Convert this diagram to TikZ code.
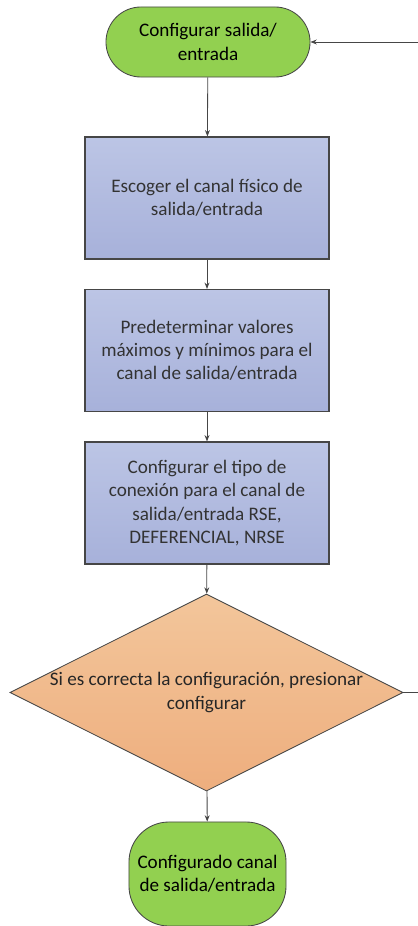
\documentclass[tikz,border=0pt]{standalone}
\usepackage{fontspec}
\setmainfont{Carlito}
\usetikzlibrary{shapes.geometric,arrows.meta}
\definecolor{termgreen}{RGB}{146,208,80}
\definecolor{proctop}{RGB}{188,197,229}
\definecolor{procbot}{RGB}{167,177,218}
\definecolor{dectop}{RGB}{243,198,155}
\definecolor{decbot}{RGB}{238,174,126}
\definecolor{edge}{RGB}{70,70,70}

\begin{document}
\begin{tikzpicture}[x=0.025cm,y=-0.025cm,
  txt/.style={font=\fontsize{13.6}{16.5}\selectfont,align=center},
  term/.style={txt,draw=edge,line width=0.6pt,fill=termgreen,text=black},
  proc/.style={txt,draw=edge,line width=0.8pt,top color=proctop,bottom color=procbot,
    minimum width=6.1cm,minimum height=3.05cm,text=black!80},
  flow/.style={draw=edge,line width=0.6pt,-{Stealth[length=4.5pt,width=3.5pt]}}]
\useasboundingbox (0,0) rectangle (418,926);
\clip (0,0) rectangle (418,926);

\node[term,minimum width=5.1cm,minimum height=1.75cm,rounded corners=0.875cm] (start) at (208,42)
  {Configurar salida/\\entrada};
\node[proc] (canal) at (207,198) {Escoger el canal físico de\\salida/entrada};
\node[proc] (limites) at (207,350.5) {Predeterminar valores\\máximos y mínimos para el\\canal de salida/entrada};
\node[proc] (conexion) at (207,503) {Configurar el tipo de\\conexión para el canal de\\salida/entrada RSE,\\DEFERENCIAL, NRSE};
\node[diamond,draw=edge,line width=0.6pt,top color=dectop,bottom color=decbot,
  minimum width=9.825cm,minimum height=4.925cm,inner sep=0pt] (check) at (206.5,692.5) {};
\node[txt,text=black!85] (checktext) at (check.center) {Si es correcta la configuración, presionar\\configurar};
\node[term,minimum width=3.925cm,minimum height=2.6cm,rounded corners=1cm] (fin) at (207.5,874)
  {Configurado canal\\de salida/entrada};

\coordinate (back) at (430,0);
\draw[flow] (start) -- (canal);
\draw[flow] (canal) -- (limites);
\draw[flow] (limites) -- (conexion);
\draw[flow] (conexion) -- (check);
\draw[flow] (check) -- (fin);
\draw[flow] (check.east) -| (back) |- (start.east);
\end{tikzpicture}
\end{document}
